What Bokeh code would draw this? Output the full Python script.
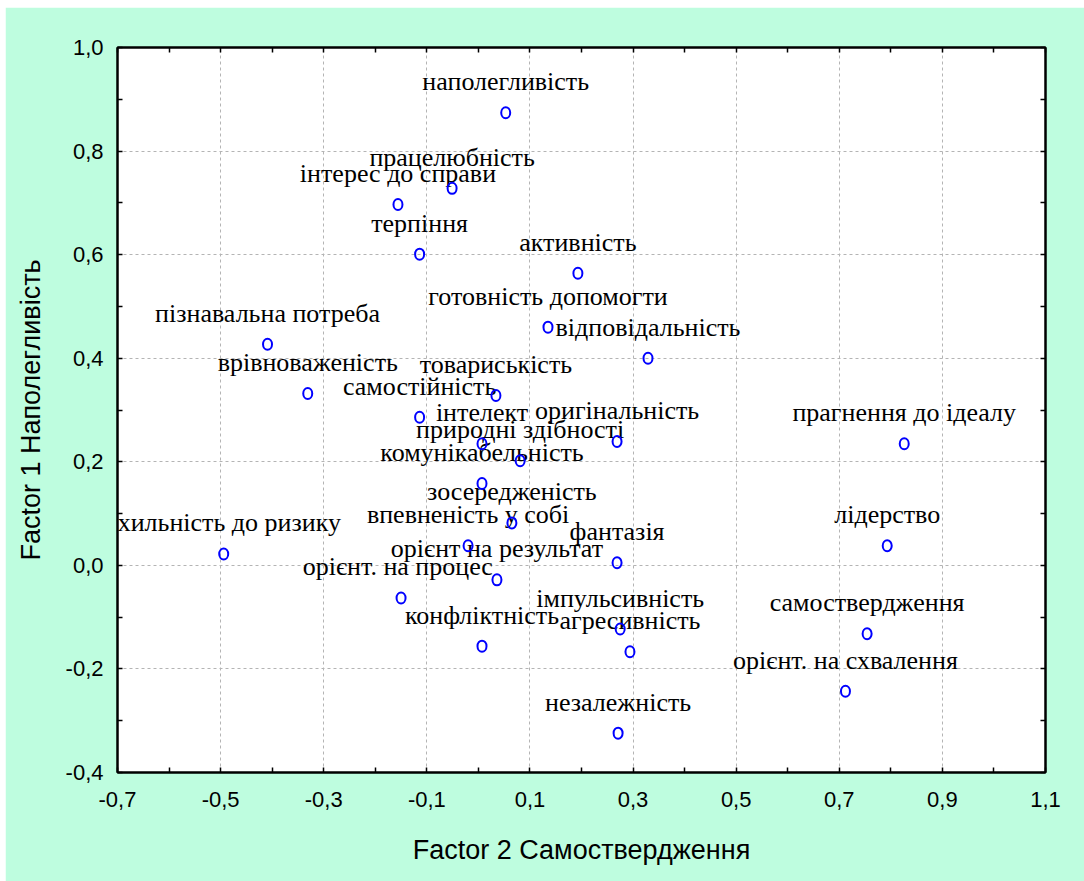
from bokeh.plotting import figure
from bokeh.models import Range1d, FixedTicker, LinearAxis, CustomJSTickFormatter, ColumnDataSource
from bokeh.core.properties import value
from bokeh.embed import file_html
from bokeh.resources import INLINE

# ---- data ----
names = [
    "наполегливість", "працелюбність", "інтерес до справи", "терпіння",
    "активність", "готовність допомогти", "відповідальність",
    "пізнавальна потреба", "врівноваженість", "товариськість",
    "самостійність", "інтелект", "оригінальність", "природні здібності",
    "комунікабельність", "зосередженість", "впевненість у собі",
    "фантазія", "орієнт на результат", "орієнт.  на процес",
    "імпульсивність", "конфліктність", "агресивність", "незалежність",
    "прагнення до ідеалу", "лідерство", "самоствердження",
    "орієнт. на схвалення", "схильність до ризику",
]
factor2 = [
    0.053, -0.051, -0.156, -0.114,
    0.193, 0.135, 0.329,
    -0.409, -0.331, 0.034,
    -0.114, 0.007, 0.269, 0.081,
    0.007, 0.065, -0.020,
    0.269, 0.036, -0.150,
    0.275, 0.007, 0.294, 0.271,
    0.826, 0.793, 0.754,
    0.712, -0.494,
]
factor1 = [
    0.874, 0.728, 0.697, 0.601,
    0.564, 0.460, 0.400,
    0.427, 0.332, 0.328,
    0.286, 0.235, 0.239, 0.202,
    0.158, 0.082, 0.038,
    0.005, -0.028, -0.063,
    -0.123, -0.156, -0.167, -0.324,
    0.235, 0.038, -0.132,
    -0.243, 0.022,
]
x_ticks = [-0.7, -0.5, -0.3, -0.1, 0.1, 0.3, 0.5, 0.7, 0.9, 1.1]
x_minor = [-0.6, -0.4, -0.2, 0.0, 0.2, 0.4, 0.6, 0.8, 1.0]
y_ticks = [-0.4, -0.2, 0.0, 0.2, 0.4, 0.6, 0.8, 1.0]
y_minor = [-0.3, -0.1, 0.1, 0.3, 0.5, 0.7, 0.9]
x_title = "Factor 2 Самоствердження"
y_title = "Factor 1 Наполегливість"

GREEN = "#BEFDDF"
SANS = "Liberation Sans"
SERIF = "Liberation Serif"

src = ColumnDataSource(data=dict(x=factor2, y=factor1, name=names))

p = figure(
    width=1079, height=874,
    x_range=Range1d(-0.7, 1.1), y_range=Range1d(-0.4, 1.0),
    output_backend="svg", toolbar_location=None,
    min_border_left=112, min_border_right=39,
    min_border_top=40, min_border_bottom=109,
    x_axis_label=x_title, y_axis_label=y_title,
)
p.margin = (7, 0, 0, 5)
p.background_fill_color = "white"
p.border_fill_color = GREEN
p.outline_line_color = "black"
p.outline_line_width = 2

tx = FixedTicker(ticks=x_ticks, minor_ticks=x_minor)
ty = FixedTicker(ticks=y_ticks, minor_ticks=y_minor)
fmt = CustomJSTickFormatter(code="return tick.toFixed(1).replace('.', ',');")

p.xaxis.ticker = tx
p.yaxis.ticker = ty
p.xgrid.ticker = tx
p.ygrid.ticker = ty
p.xaxis.formatter = fmt
p.yaxis.formatter = fmt

for ax in (p.xaxis[0], p.yaxis[0]):
    ax.axis_line_color = "black"
    ax.axis_line_width = 2
    ax.major_tick_in = 5
    ax.major_tick_out = 0
    ax.minor_tick_in = 5
    ax.minor_tick_out = 0
    ax.major_tick_line_width = 1.5
    ax.minor_tick_line_width = 1.5
    ax.major_label_text_font = SANS
    ax.major_label_text_font_size = "22px"
    ax.major_label_text_color = "black"
    ax.axis_label_text_font = SANS
    ax.axis_label_text_font_size = "27px"
    ax.axis_label_text_font_style = "normal"
    ax.axis_label_text_color = "black"

p.xaxis.major_label_standoff = 19
p.yaxis.major_label_standoff = 14
p.xaxis.axis_label_standoff = 25
p.yaxis.axis_label_standoff = 17

blank = CustomJSTickFormatter(code="return '';")
for side, tk in (("above", tx), ("right", ty)):
    ax = LinearAxis(ticker=tk, formatter=blank,
                    major_tick_in=5, major_tick_out=0,
                    minor_tick_in=5, minor_tick_out=0,
                    major_tick_line_width=1.5, minor_tick_line_width=1.5,
                    axis_line_color="black", axis_line_width=2,
                    major_label_standoff=0)
    p.add_layout(ax, side)

p.grid.grid_line_color = "#b4b4b4"
p.grid.grid_line_dash = "3 3"
p.grid.grid_line_width = 1

p.text(x="x", y="y", text="name", source=src,
       text_font=value(SERIF), text_font_size="26px",
       text_align="center", text_baseline="alphabetic",
       y_offset=-31, text_color="black")

p.ellipse(x="x", y="y", source=src, width=9, height=11,
          width_units="screen", height_units="screen",
          fill_color=None, line_color="#0000FF", line_width=2)

open("out.html", "w").write(file_html(p, INLINE))
